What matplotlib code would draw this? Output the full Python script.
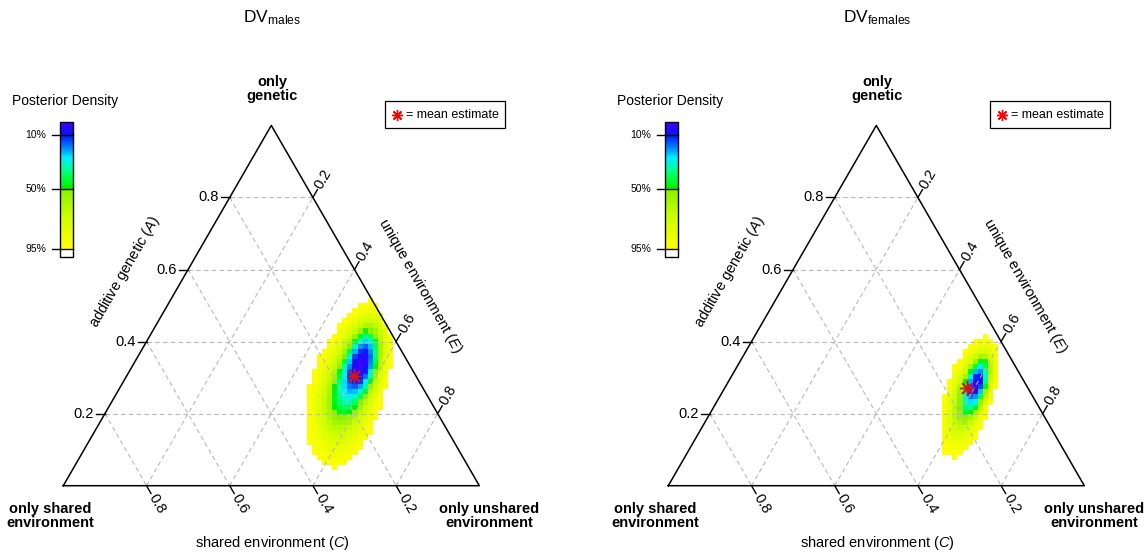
import numpy as np
import matplotlib
matplotlib.use("Agg")
import matplotlib.pyplot as plt
from matplotlib.colors import LinearSegmentedColormap
from matplotlib.patches import Rectangle

plt.rcParams['font.family'] = ['Liberation Sans', 'DejaVu Sans']
plt.rcParams['mathtext.fontset'] = 'custom'
plt.rcParams['mathtext.rm'] = 'Liberation Sans'
plt.rcParams['mathtext.it'] = 'Liberation Sans:italic'

# --- data ---
panel_names = ['males', 'females']
# posterior mean estimate, proportions of A and E (C = 1 - A - E)
mean_A = [0.305, 0.272]
mean_E = [0.547, 0.583]
# posterior density described as core + broad part: centre (A, E), sd (along, across), tilt in deg
core_A = [0.355, 0.290]
core_E = [0.545, 0.600]
core_sd = [(0.060, 0.028), (0.042, 0.017)]
broad_A = [0.252, 0.240]
broad_E = [0.550, 0.598]
broad_sd = [(0.084, 0.041), (0.066, 0.025)]
core_weight = [0.4, 0.4]
tilt = [77.7, 75.0]

grid_ticks = [0.2, 0.4, 0.6, 0.8]
hpd_levels = [0.10, 0.50, 0.95]
hpd_labels = ['10%', '50%', '95%']

# layout in pixels
W = 416.0
S3 = np.sqrt(3) / 2
X0 = 63.3
Y0 = 485.7
DX = 605
NCELL = 82

cmap = LinearSegmentedColormap.from_list('hpd', [
    (0.00, '#4400ff'), (0.10, '#0018ff'), (0.20, '#0088ff'), (0.28, '#00eeff'),
    (0.37, '#00ff99'), (0.45, '#00ff30'), (0.525, '#00ee00'), (0.527, '#88f000'),
    (0.75, '#ccff00'), (1.00, '#ffff00')])


def tern(A, E, x0):
    A = np.asarray(A, float)
    E = np.asarray(E, float)
    return x0 + W * (E + A / 2), Y0 - W * S3 * A


def gauss(u, v, cu, cv, sd, ang):
    t = np.radians(ang)
    du, dv = u - cu, v - cv
    d1 = du * np.cos(t) + dv * np.sin(t)
    d2 = -du * np.sin(t) + dv * np.cos(t)
    return np.exp(-0.5 * ((d1 / sd[0]) ** 2 + (d2 / sd[1]) ** 2)) / (sd[0] * sd[1])


fig = plt.figure(figsize=(11.47, 5.57), dpi=100)
ax = fig.add_axes([0, 0, 1, 1])
ax.set_xlim(0, 1147)
ax.set_ylim(557, 0)
ax.axis('off')

gc = '#b8b8b8'
for i, name in enumerate(panel_names):
    x0 = X0 + DX * i
    ox = DX * i

    # density cells
    h = 1.0 / NCELL
    ue = np.arange(0, 1 + h / 2, h)
    ve = np.arange(0, S3 + h, h)
    U, V = np.meshgrid(ue, ve)
    uc = (U[:-1, :-1] + U[1:, 1:]) / 2
    vc = (V[:-1, :-1] + V[1:, 1:]) / 2
    Ac = vc / S3
    Ec = uc - Ac / 2
    Cc = 1 - Ac - Ec
    inside = (Ac >= 0) & (Ec >= 0) & (Cc >= 0)
    cu1, cv1 = core_E[i] + core_A[i] / 2, core_A[i] * S3
    cu2, cv2 = broad_E[i] + broad_A[i] / 2, broad_A[i] * S3
    dens = (core_weight[i] * gauss(uc, vc, cu1, cv1, core_sd[i], tilt[i])
            + (1 - core_weight[i]) * gauss(uc, vc, cu2, cv2, broad_sd[i], tilt[i]))
    dens = np.where(inside, dens, 0)
    mass = dens / dens.sum()
    order = np.argsort(mass.ravel())[::-1]
    cum = np.empty(mass.size)
    cum[order] = np.cumsum(mass.ravel()[order])
    level = cum.reshape(mass.shape)
    vals = np.ma.masked_where((level > 0.95) | ~inside, level / 0.95)
    ax.pcolormesh(x0 + U * W, Y0 - V * W, vals, cmap=cmap, vmin=0, vmax=1,
                  shading='flat', zorder=1)

    # grid lines
    for g in grid_ticks:
        for (a1, e1), (a2, e2) in [((g, 0), (g, 1 - g)),          # A const
                                   ((1 - g, 0), (0, 1 - g)),      # C const
                                   ((0, g), (1 - g, g))]:         # E const
            px, py = tern([a1, a2], [e1, e2], x0)
            ax.plot(px, py, color=gc, lw=0.8, ls=(0, (4, 3)), zorder=2)

    # triangle
    px, py = tern([0, 0, 1, 0], [0, 1, 0, 0], x0)
    ax.plot(px, py, color='black', lw=1.1, zorder=3)

    tl = 9
    c60, s60 = 0.5, S3
    for g in grid_ticks:
        # A ticks on left side
        px, py = tern(g, 0, x0)
        ax.plot([px - tl, px], [py, py], color='black', lw=1.0)
        ax.text(px - tl - 2, py, f'{g:.1f}', ha='right', va='center', fontsize=10.5)
        # C ticks on base
        px, py = tern(0, 1 - g, x0)
        ax.plot([px, px + tl * c60], [py, py + tl * s60], color='black', lw=1.0)
        ax.text(px + (tl + 2) * c60, py + (tl + 2) * s60, f'{g:.1f}', rotation=-60,
                rotation_mode='anchor', ha='left', va='center', fontsize=10.5)
        # E ticks on right side
        px, py = tern(1 - g, g, x0)
        ax.plot([px, px + tl * c60], [py, py - tl * s60], color='black', lw=1.0)
        ax.text(px + (tl + 2) * c60, py - (tl + 2) * s60, f'{g:.1f}', rotation=60,
                rotation_mode='anchor', ha='left', va='center', fontsize=10.5)

    # mean estimate
    mx, my = tern(mean_A[i], mean_E[i], x0)
    ax.plot(mx, my, marker=(8, 2, 0), color='#e01010', ms=11, mew=1.0, zorder=5)

    # labels
    ax.text(272 + ox, 18, r'$\mathregular{DV_{%s}}$' % name, ha='center', va='center',
            fontsize=12.5)
    ax.text(272 + ox, 89, 'only\ngenetic', ha='center', va='center', fontsize=10.5,
            fontweight='bold', linespacing=1.05)
    ax.text(50 + ox, 516, 'only shared\nenvironment', ha='center', va='center',
            fontsize=10.5, fontweight='bold', linespacing=1.05)
    ax.text(489 + ox, 516, 'only unshared\nenvironment', ha='center', va='center',
            fontsize=10.5, fontweight='bold', linespacing=1.05)
    ax.text(272 + ox, 543, r'shared environment ($\mathit{C}$)', ha='center',
            va='center', fontsize=10.5)
    ax.text(125 + ox, 272, r'additive genetic ($\mathit{A}$)', ha='center',
            va='center', fontsize=10.5, rotation=60)
    ax.text(420 + ox, 286, r'unique environment ($\mathit{E}$)', ha='center',
            va='center', fontsize=10.5, rotation=-60)

    # legend box
    ax.add_patch(Rectangle((385 + ox, 101), 120, 27, fill=False, ec='black', lw=0.9))
    ax.plot(397 + ox, 114.5, marker=(8, 2, 0), color='red', ms=8, mew=1.0)
    ax.text(406 + ox, 114.5, '= mean estimate', ha='left', va='center', fontsize=9)

    # colour bar
    ax.text(65 + ox, 101, 'Posterior Density', ha='center', va='center', fontsize=10)
    ye = np.linspace(122, 249, 128)
    xe = np.array([60, 73]) + ox
    cb = np.linspace(0, 1, 127).reshape(-1, 1)
    ax.pcolormesh(xe, ye, cb, cmap=cmap, vmin=0, vmax=1, shading='flat')
    ax.add_patch(Rectangle((60 + ox, 122), 13, 135, fill=False, ec='black', lw=1.0))
    for lv, lab in zip(hpd_levels, hpd_labels):
        yy = 122 + lv / 0.95 * 127
        ax.plot([52 + ox, 73 + ox], [yy, yy], color='black', lw=1.0)
        ax.text(46 + ox, yy, lab, ha='right', va='center', fontsize=7.5)

fig.savefig('out.png', dpi=100)
